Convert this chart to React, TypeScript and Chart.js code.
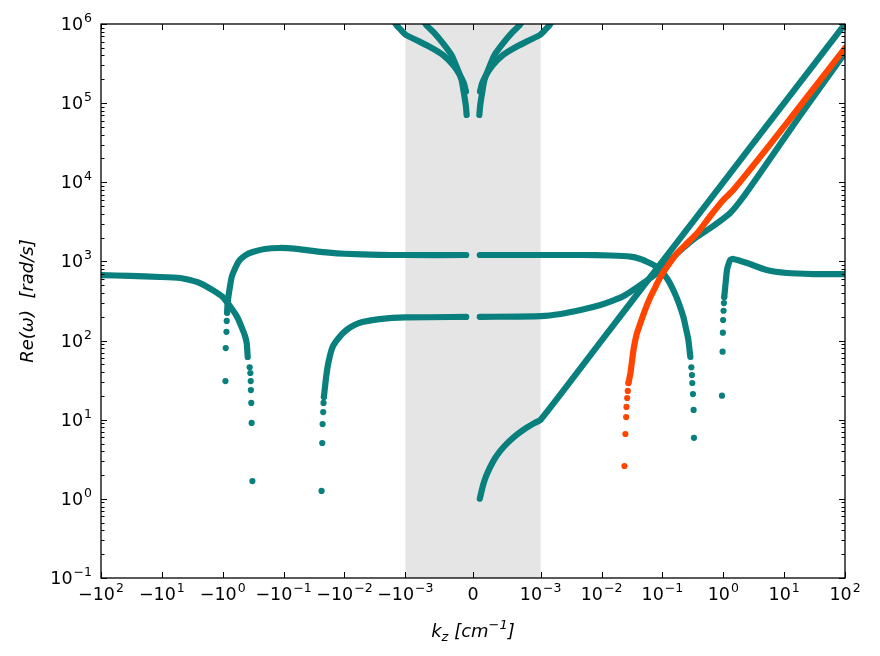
import React, { useEffect, useRef } from 'react';
import { Chart, registerables } from 'chart.js';

Chart.register(...registerables);

const TEAL = '#0a807e';
const ORANGE = '#ff4500';
const SHADE = '#e5e5e5';

// ---- axis definitions ----
const xTickValues = [-100, -10, -1, -0.1, -0.01, -0.001, 0, 0.001, 0.01, 0.1, 1, 10, 100];
const xTickBase = ['−10', '−10', '−10', '−10', '−10', '−10', '0', '10', '10', '10', '10', '10', '10'];
const xTickExp = ['2', '1', '0', '−1', '−2', '−3', '', '−3', '−2', '−1', '0', '1', '2'];
const yTickValues = [0.1, 1, 10, 100, 1e3, 1e4, 1e5, 1e6];
const yTickExp = ['−1', '0', '1', '2', '3', '4', '5', '6'];

// ---- data (kz in cm^-1, Re(omega) in rad/s) ----
// branch on the negative side starting near 680 rad/s
const b1Kz = [-100, -33.5, -10.8, -5.07, -3.47, -2.38, -1.46, -1.0, -0.686, -0.568, -0.49, -0.436, -0.404, -0.389];
const b1W = [673, 655, 636, 617, 582, 533, 435, 355, 243, 193, 148, 117.5, 93, 62];
const b1TailKz = [-0.361, -0.352, -0.347, -0.345, -0.34, -0.335, -0.326];
const b1TailW = [46, 38.9, 30.8, 23.7, 16.3, 9.1, 1.68];

// ~1200 rad/s branch, negative side
const b2TailKz = [-0.903, -0.893, -0.869, -0.86, -0.849];
const b2TailW = [30.8, 80.5, 129, 177, 225];
const b2Kz = [-0.849, -0.828, -0.768, -0.712, -0.612, -0.526, -0.42, -0.322, -0.205, -0.116, -0.066, -0.0335, -0.018, -0.01, -0.00267, -0.001, -0.0001];
const b2W = [225, 307, 461, 636, 851, 1042, 1205, 1315, 1435, 1479, 1450, 1360, 1290, 1250, 1210, 1205, 1205];
// ~1200 rad/s branch, positive side
const b2bKz = [0.0001, 0.001, 0.00453, 0.014, 0.0299, 0.0436, 0.0568, 0.0768, 0.0927, 0.121, 0.151, 0.183, 0.221, 0.247, 0.267, 0.288];
const b2bW = [1205, 1205, 1205, 1188, 1150, 1074, 984, 875, 779, 600, 435, 307, 199, 136, 102, 62];
const b2bTailKz = [0.299, 0.306, 0.31, 0.318, 0.326, 0.33];
const b2bTailW = [46, 36.7, 29.1, 21.1, 13.3, 5.9];

// ~200 rad/s branch, negative side
const b3TailKz = [-0.0238, -0.0232, -0.0229, -0.0224, -0.0221, -0.0218];
const b3TailW = [1.26, 5.08, 8.8, 12.5, 16.3, 19.4];
const b3Kz = [-0.0218, -0.02, -0.0183, -0.0157, -0.0121, -0.00927, -0.00686, -0.00507, -0.00267, -0.001, -0.0001];
const b3W = [19.4, 34.9, 53.6, 83, 111, 136, 157, 172, 187, 196, 199];
// ~200 rad/s branch, positive side, rising to the top right
const b3bKz = [0.0001, 0.001, 0.00213, 0.00453, 0.0096, 0.0157, 0.0247, 0.0436, 0.0636, 0.0828, 0.1, 0.135, 0.197, 0.347, 0.686, 1.3, 2.13, 5.26, 18.3, 100];
const b3bW = [199, 204, 217, 243, 281, 321, 377, 504, 617, 724, 826, 1042, 1374, 1977, 2803, 4093, 6516, 17500, 70000, 430000];

// straight branch from 1 rad/s up to the top right corner
const b4Kz = [0.0001, 0.00015, 0.0002, 0.0003, 0.0004, 0.0005, 0.0006, 0.0007, 0.0008, 0.0009, 0.001, 0.01, 0.1, 1, 10, 100];
const b4W = [1, 1.5, 2, 3, 4, 5, 6, 7, 8, 9, 10, 100, 1000, 10000, 100000, 1000000];

// orange branch
const b5TailKz = [0.0238, 0.0247, 0.0254, 0.0257, 0.0264, 0.027, 0.0277];
const b5TailW = [2.6, 6.6, 10.8, 14.5, 18.8, 23.1, 29.1];
const b5Kz = [0.0277, 0.0299, 0.0335, 0.0375, 0.0436, 0.0526, 0.0636, 0.0768, 0.0927, 0.125, 0.176, 0.257, 0.375, 0.612, 1.0, 1.46, 5.26, 18.3, 100];
const b5W = [29.1, 38.9, 76, 117.5, 167, 250, 355, 475, 636, 901, 1277, 1710, 2286, 3750, 5970, 7980, 27000, 92000, 497000];

// right-most branch
const b6TailKz = [0.952, 0.975, 0.985, 0.995, 1.012, 1.026, 1.038];
const b6TailW = [20.1, 72.3, 126, 182, 238, 298, 355];
const b6Kz = [1.038, 1.079, 1.151, 1.208, 1.3, 1.46, 2.45, 5.2, 11.07, 29.9, 100];
const b6W = [355, 480, 779, 901, 1042, 1074, 955, 779, 714, 693, 690];

// high-frequency branches near kz = 0
const b7Kz = [-0.0017, -0.0014, -0.00118, -0.00099, -0.00084, -0.000642, -0.000443, -0.000294, -0.000194, -0.000134, -0.000104];
const b7W = [1230000, 970000, 840000, 726000, 628000, 517000, 406000, 303000, 227000, 178000, 140000];
const b8Kz = [-0.000731, -0.000691, -0.000567, -0.000443, -0.000318, -0.000243, -0.000169, -0.000134, -0.000104, -0.000094];
const b8W = [1120000, 970000, 763000, 570000, 406000, 289000, 196000, 133000, 90000, 70800];
const b9Kz = [0.0017, 0.0014, 0.00118, 0.00099, 0.00084, 0.000642, 0.000443, 0.000294, 0.000194, 0.000134, 0.000104];
const b9W = [1230000, 970000, 840000, 726000, 628000, 517000, 406000, 303000, 227000, 178000, 140000];
const b10Kz = [0.000731, 0.000691, 0.000567, 0.000443, 0.000318, 0.000243, 0.000169, 0.000134, 0.000104, 0.000094];
const b10W = [1120000, 970000, 763000, 570000, 406000, 289000, 196000, 133000, 90000, 70800];

// ---- symlog transform (linthresh 1e-3, linscale 1) ----
const LINTHRESH = 1e-3;
const LINUNITS = 1 / (1 - 1 / 10);
const symlog = (k: number) => {
  const a = Math.abs(k);
  if (a <= LINTHRESH) return (k / LINTHRESH) * LINUNITS;
  return Math.sign(k) * (LINUNITS + Math.log10(a / LINTHRESH));
};
const X_EDGE = symlog(100);

const pts = (kz: number[], w: number[]) => kz.map((k, i) => ({ x: symlog(k), y: w[i] }));

const lineDs = (label: string, kz: number[], w: number[], color: string, order: number) => ({
  label,
  data: pts(kz, w),
  showLine: true,
  borderColor: color,
  backgroundColor: color,
  borderWidth: 6.2,
  pointRadius: 0,
  pointHoverRadius: 0,
  borderCapStyle: 'round',
  borderJoinStyle: 'round',
  tension: 0.2,
  clip: 0,
  order,
});

const dotDs = (label: string, kz: number[], w: number[], color: string, order: number) => ({
  label,
  data: pts(kz, w),
  showLine: false,
  pointRadius: 3.1,
  pointHoverRadius: 3.1,
  pointBackgroundColor: color,
  pointBorderWidth: 0,
  borderWidth: 0,
  clip: 0,
  order,
});

const FONT = '"DejaVu Sans", sans-serif';
const BASE_PX = 17.5;
const EXP_PX = 12.5;

function drawPow(ctx: CanvasRenderingContext2D, base: string, exp: string, x: number, yBase: number, align: 'center' | 'right') {
  ctx.font = `${BASE_PX}px ${FONT}`;
  const wb = ctx.measureText(base).width;
  ctx.font = `${EXP_PX}px ${FONT}`;
  const we = exp ? ctx.measureText(exp).width + 1 : 0;
  const total = wb + we;
  const x0 = align === 'center' ? x - total / 2 : x - total;
  ctx.textAlign = 'left';
  ctx.textBaseline = 'alphabetic';
  ctx.font = `${BASE_PX}px ${FONT}`;
  ctx.fillText(base, x0, yBase);
  if (exp) {
    ctx.font = `${EXP_PX}px ${FONT}`;
    ctx.fillText(exp, x0 + wb + 1, yBase - 8);
  }
}

const shadePlugin = {
  id: 'shade',
  beforeDatasetsDraw(chart: any) {
    const { ctx, chartArea, scales } = chart;
    const x0 = scales.x.getPixelForValue(symlog(-LINTHRESH));
    const x1 = scales.x.getPixelForValue(symlog(LINTHRESH));
    ctx.save();
    ctx.fillStyle = SHADE;
    ctx.fillRect(x0, chartArea.top, x1 - x0, chartArea.bottom - chartArea.top);
    ctx.restore();
  },
};

const axesPlugin = {
  id: 'axesFrame',
  afterDraw(chart: any) {
    const { ctx, chartArea, scales } = chart;
    const { left, right, top, bottom } = chartArea;
    const xs = scales.x;
    const ys = scales.y;
    ctx.save();
    ctx.strokeStyle = '#000';
    ctx.fillStyle = '#000';
    // ticks
    ctx.lineWidth = 1;
    ctx.beginPath();
    xTickValues.forEach((v) => {
      const px = Math.round(xs.getPixelForValue(symlog(v))) + 0.5;
      ctx.moveTo(px, bottom);
      ctx.lineTo(px, bottom - 6);
      ctx.moveTo(px, top);
      ctx.lineTo(px, top + 6);
    });
    for (let e = -1; e <= 6; e++) {
      const py = Math.round(ys.getPixelForValue(Math.pow(10, e))) + 0.5;
      ctx.moveTo(left, py);
      ctx.lineTo(left + 6, py);
      ctx.moveTo(right, py);
      ctx.lineTo(right - 6, py);
      if (e < 6) {
        for (let m = 2; m <= 9; m++) {
          const pm = Math.round(ys.getPixelForValue(m * Math.pow(10, e))) + 0.5;
          ctx.moveTo(left, pm);
          ctx.lineTo(left + 3.5, pm);
          ctx.moveTo(right, pm);
          ctx.lineTo(right - 3.5, pm);
        }
      }
    }
    ctx.stroke();
    // frame
    ctx.lineWidth = 1.3;
    ctx.strokeRect(left, top, right - left, bottom - top);

    // tick labels
    xTickValues.forEach((v, i) => {
      const px = xs.getPixelForValue(symlog(v));
      drawPow(ctx, xTickBase[i], xTickExp[i], px, bottom + 22, 'center');
    });
    yTickValues.forEach((v, i) => {
      const py = ys.getPixelForValue(v);
      drawPow(ctx, '10', yTickExp[i], left - 9, py + 6, 'right');
    });

    // x title: k_z [cm^-1]
    const it = `italic 18px ${FONT}`;
    const itS = `italic 13px ${FONT}`;
    const parts: [string, string, number][] = [
      ['k', it, 0],
      ['z', itS, 4],
      [' [cm', it, 0],
      ['−1', itS, -8],
      [']', it, 0],
    ];
    let tw = 0;
    parts.forEach(([t, f]) => {
      ctx.font = f;
      tw += ctx.measureText(t).width;
    });
    let cx = (left + right) / 2 - tw / 2;
    const by = 637;
    ctx.textAlign = 'left';
    ctx.textBaseline = 'alphabetic';
    parts.forEach(([t, f, dy]) => {
      ctx.font = f;
      ctx.fillText(t, cx, by + dy);
      cx += ctx.measureText(t).width;
    });

    // y title
    ctx.translate(28, (top + bottom) / 2);
    ctx.rotate(-Math.PI / 2);
    ctx.font = it;
    ctx.textAlign = 'center';
    ctx.textBaseline = 'middle';
    ctx.fillText('Re(ω)  [rad/s]', 0, 0);
    ctx.restore();
  },
};

export default function App() {
  const canvasRef = useRef<HTMLCanvasElement | null>(null);

  useEffect(() => {
    if (!canvasRef.current) return;
    const datasets: any[] = [
      dotDs('orange tail', b5TailKz, b5TailW, ORANGE, 0),
      lineDs('orange', b5Kz, b5W, ORANGE, 0),
      dotDs('b1 tail', b1TailKz, b1TailW, TEAL, 1),
      lineDs('b1', b1Kz, b1W, TEAL, 1),
      dotDs('b2 tail', b2TailKz, b2TailW, TEAL, 1),
      lineDs('b2', b2Kz, b2W, TEAL, 1),
      lineDs('b2b', b2bKz, b2bW, TEAL, 1),
      dotDs('b2b tail', b2bTailKz, b2bTailW, TEAL, 1),
      dotDs('b3 tail', b3TailKz, b3TailW, TEAL, 1),
      lineDs('b3', b3Kz, b3W, TEAL, 1),
      lineDs('b3b', b3bKz, b3bW, TEAL, 1),
      lineDs('b4', b4Kz, b4W, TEAL, 1),
      dotDs('b6 tail', b6TailKz, b6TailW, TEAL, 1),
      lineDs('b6', b6Kz, b6W, TEAL, 1),
      lineDs('b7', b7Kz, b7W, TEAL, 1),
      lineDs('b8', b8Kz, b8W, TEAL, 1),
      lineDs('b9', b9Kz, b9W, TEAL, 1),
      lineDs('b10', b10Kz, b10W, TEAL, 1),
    ];
    const chart = new Chart(canvasRef.current, {
      type: 'scatter',
      data: { datasets },
      options: {
        responsive: false,
        animation: false,
        devicePixelRatio: 1,
        layout: { padding: { left: 101, top: 24, right: 35, bottom: 78 } },
        scales: {
          x: { type: 'linear', min: -X_EDGE, max: X_EDGE, display: false },
          y: { type: 'logarithmic', min: 0.1, max: 1e6, display: false },
        },
        plugins: { legend: { display: false }, tooltip: { enabled: false } },
        events: [],
      },
      plugins: [shadePlugin, axesPlugin],
    } as any);
    return () => chart.destroy();
  }, []);

  return (
    <div style={{ position: 'fixed', left: 0, top: 0, width: 880, height: 656, background: '#fff' }}>
      <canvas ref={canvasRef} width={880} height={656} />
    </div>
  );
}
